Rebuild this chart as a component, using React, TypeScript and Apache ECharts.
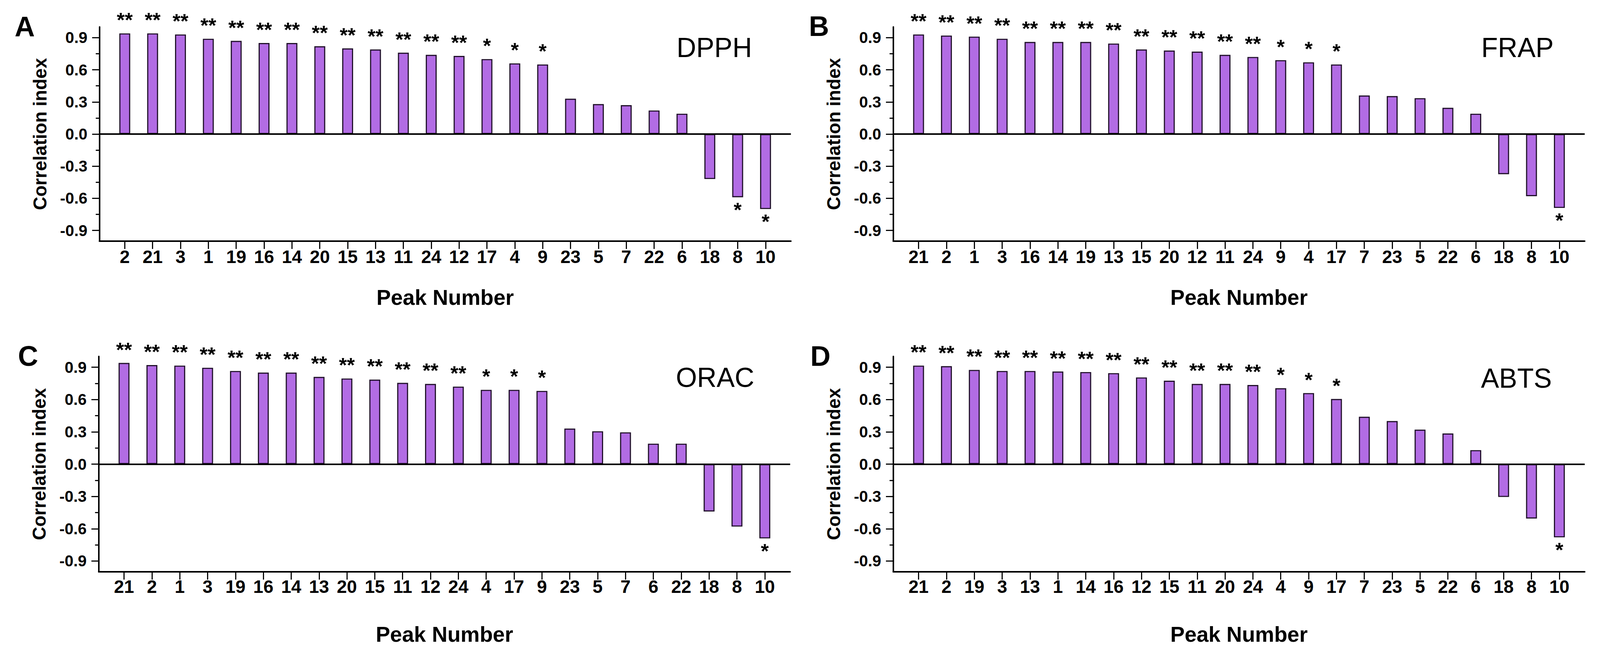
import React, { useEffect, useRef } from 'react';
import * as echarts from 'echarts';

const REF_W = 4394;
const REF_H = 1681;
const FONT = "'Liberation Sans', Arial, Helvetica, sans-serif";

// ---------- data ----------
const panelTitles = ['DPPH', 'FRAP', 'ORAC', 'ABTS'];
const panelLetters = ['A', 'B', 'C', 'D'];
const yTickValues = [-0.9, -0.6, -0.3, 0, 0.3, 0.6, 0.9];
const yMinorTickValues = [-0.75, -0.45, -0.15, 0.15, 0.45, 0.75];

const dpphPeaks = ['2', '21', '3', '1', '19', '16', '14', '20', '15', '13', '11', '24', '12', '17', '4', '9', '23', '5', '7', '22', '6', '18', '8', '10'];
const dpphValues = [0.94, 0.94, 0.93, 0.89, 0.87, 0.85, 0.85, 0.82, 0.80, 0.79, 0.76, 0.74, 0.73, 0.70, 0.66, 0.65, 0.33, 0.28, 0.27, 0.22, 0.19, -0.42, -0.59, -0.70];
const dpphSig = ['**', '**', '**', '**', '**', '**', '**', '**', '**', '**', '**', '**', '**', '*', '*', '*', '', '', '', '', '', '', '*', '*'];

const frapPeaks = ['21', '2', '1', '3', '16', '14', '19', '13', '15', '20', '12', '11', '24', '9', '4', '17', '7', '23', '5', '22', '6', '18', '8', '10'];
const frapValues = [0.93, 0.92, 0.91, 0.89, 0.86, 0.86, 0.86, 0.845, 0.79, 0.78, 0.77, 0.74, 0.72, 0.69, 0.67, 0.65, 0.36, 0.355, 0.335, 0.245, 0.19, -0.375, -0.58, -0.69];
const frapSig = ['**', '**', '**', '**', '**', '**', '**', '**', '**', '**', '**', '**', '**', '*', '*', '*', '', '', '', '', '', '', '', '*'];

const oracPeaks = ['21', '2', '1', '3', '19', '16', '14', '13', '20', '15', '11', '12', '24', '4', '17', '9', '23', '5', '7', '6', '22', '18', '8', '10'];
const oracValues = [0.94, 0.92, 0.915, 0.895, 0.865, 0.85, 0.85, 0.81, 0.795, 0.785, 0.755, 0.745, 0.72, 0.69, 0.69, 0.68, 0.33, 0.305, 0.295, 0.19, 0.19, -0.44, -0.58, -0.69];
const oracSig = ['**', '**', '**', '**', '**', '**', '**', '**', '**', '**', '**', '**', '**', '*', '*', '*', '', '', '', '', '', '', '', '*'];

const abtsPeaks = ['21', '2', '19', '3', '13', '1', '14', '16', '12', '15', '11', '20', '24', '4', '9', '17', '7', '23', '5', '22', '6', '18', '8', '10'];
const abtsValues = [0.915, 0.91, 0.875, 0.865, 0.865, 0.86, 0.855, 0.845, 0.805, 0.775, 0.745, 0.745, 0.735, 0.705, 0.66, 0.605, 0.44, 0.40, 0.32, 0.285, 0.13, -0.305, -0.505, -0.68];
const abtsSig = ['**', '**', '**', '**', '**', '**', '**', '**', '**', '**', '**', '**', '**', '*', '*', '*', '', '', '', '', '', '', '', '*'];

const allPeaks = [dpphPeaks, frapPeaks, oracPeaks, abtsPeaks];
const allValues = [dpphValues, frapValues, oracValues, abtsValues];
const allSig = [dpphSig, frapSig, oracSig, abtsSig];

// ---------- layout (in reference pixels) ----------
const layouts = [
  { left: 273, top: 69, height: 548, letterX: 68, letterY: 68, titleX: 1858, titleY: 122, xNameGap: 116, xLabelMargin: 17 },
  { left: 2453, top: 69, height: 548, letterX: 2249, letterY: 67, titleX: 4068, titleY: 122, xNameGap: 116, xLabelMargin: 17 },
  { left: 271, top: 912, height: 551, letterX: 77, letterY: 911, titleX: 1856, titleY: 966, xNameGap: 132, xLabelMargin: 15 },
  { left: 2453, top: 912, height: 551, letterX: 2253, letterY: 911, titleX: 4067, titleY: 968, xNameGap: 132, xLabelMargin: 15 },
];
const GRID_W = 1899;
const BAR_FILL = '#b26ce4';
const BAR_EDGE = '#20102a';

export default function App() {
  const ref = useRef<HTMLDivElement>(null);

  useEffect(() => {
    if (!ref.current) return;
    const vw = window.innerWidth || REF_W;
    const vh = window.innerHeight || REF_H;
    const sx = vw / REF_W;
    const sy = vh / REF_H;
    const s = Math.sqrt(sx * sy);
    const X = (v: number) => v * sx;
    const Y = (v: number) => v * sy;
    const F = (v: number) => v * s;

    const chart = echarts.init(ref.current, null, { renderer: 'svg', width: vw, height: vh });

    const grid: any[] = [];
    const xAxis: any[] = [];
    const yAxis: any[] = [];
    const series: any[] = [];
    const graphic: any[] = [];

    allPeaks.forEach((peaks, k) => {
      const L = layouts[k];
      const idx = peaks.map((_, i) => i);
      grid.push({ left: X(L.left), top: Y(L.top), width: X(GRID_W), height: Y(L.height) });
      xAxis.push({
        type: 'value',
        gridIndex: k,
        min: -0.91,
        max: 23.91,
        name: 'Peak Number',
        nameLocation: 'middle',
        nameGap: Y(L.xNameGap),
        nameTextStyle: { fontFamily: FONT, fontWeight: 'bold', fontSize: F(57), color: '#000' },
        axisLine: { show: true, onZero: false, lineStyle: { color: '#000', width: F(4) } },
        axisTick: { show: true, customValues: idx, length: Y(20), lineStyle: { color: '#000', width: F(3) } },
        axisLabel: {
          show: true,
          customValues: idx,
          formatter: (v: number) => peaks[Math.round(v)] ?? '',
          margin: Y(L.xLabelMargin),
          fontFamily: FONT,
          fontWeight: 'bold',
          fontSize: F(48),
          color: '#000',
        },
        splitLine: { show: false },
      });
      yAxis.push({
        type: 'value',
        gridIndex: k,
        position: 'left',
        min: -1,
        max: 1,
        name: 'Correlation index',
        nameLocation: 'middle',
        nameGap: X(138),
        nameRotate: 90,
        nameTextStyle: { fontFamily: FONT, fontWeight: 'bold', fontSize: F(49), color: '#000' },
        axisLine: { show: true, onZero: false, lineStyle: { color: '#000', width: F(4) } },
        axisTick: { show: true, customValues: yTickValues, length: X(20), lineStyle: { color: '#000', width: F(3) } },
        axisLabel: {
          show: true,
          customValues: yTickValues,
          formatter: (v: number) => v.toFixed(1),
          margin: X(33),
          fontFamily: FONT,
          fontWeight: 'bold',
          fontSize: F(42),
          color: '#000',
        },
        splitLine: { show: false },
      });
      yAxis.push({
        type: 'value',
        gridIndex: k,
        position: 'left',
        offset: 0,
        min: -1,
        max: 1,
        axisLine: { show: false, onZero: false },
        axisTick: { show: true, customValues: yMinorTickValues, length: X(10), lineStyle: { color: '#000', width: F(3) } },
        axisLabel: { show: false },
        splitLine: { show: false },
      });

      const vals = allValues[k];
      const sig = allSig[k];
      series.push({
        type: 'bar',
        xAxisIndex: k,
        yAxisIndex: 2 * k,
        barWidth: X(30),
        itemStyle: { color: BAR_FILL, borderColor: BAR_EDGE, borderWidth: F(3) },
        emphasis: { disabled: true },
        data: vals.map((v, i) => ({
          value: [i, v],
          label: {
            show: sig[i] !== '',
            formatter: sig[i],
            position: v >= 0 ? 'top' : 'bottom',
            distance: v >= 0 ? Y(8) : Y(6),
            fontFamily: FONT,
            fontWeight: 'bold',
            fontSize: F(54),
            color: '#000',
          },
        })),
        markLine: {
          silent: true,
          symbol: ['none', 'none'],
          label: { show: false },
          lineStyle: { color: '#000', width: F(4), type: 'solid' },
          emphasis: { disabled: true },
          data: [{ yAxis: 0 }],
        },
      });

      graphic.push({
        type: 'text',
        x: X(L.letterX),
        y: Y(L.letterY),
        style: {
          text: panelLetters[k],
          fontFamily: FONT,
          fontWeight: 'bold',
          fontSize: F(74),
          fill: '#000',
          align: 'center',
          verticalAlign: 'middle',
        },
      });
      graphic.push({
        type: 'text',
        x: X(L.titleX),
        y: Y(L.titleY),
        style: {
          text: panelTitles[k],
          fontFamily: FONT,
          fontSize: F(72),
          fill: '#000',
          align: 'left',
          verticalAlign: 'middle',
        },
      });
    });

    chart.setOption({
      animation: false,
      backgroundColor: '#ffffff',
      grid,
      xAxis,
      yAxis,
      series,
      graphic,
    });

    return () => chart.dispose();
  }, []);

  return (
    <div
      ref={ref}
      style={{ position: 'fixed', left: 0, top: 0, width: '100vw', height: '100vh', background: '#fff', overflow: 'hidden' }}
    />
  );
}
